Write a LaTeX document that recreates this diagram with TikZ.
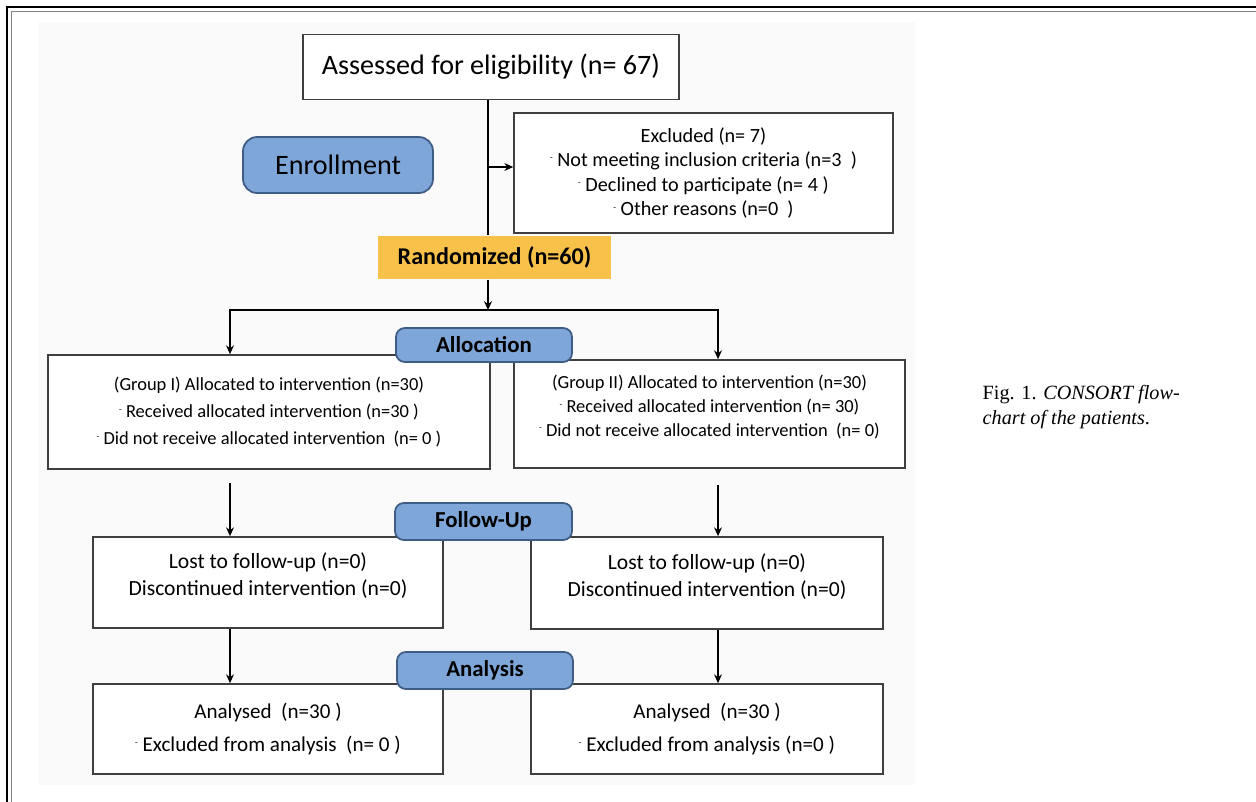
\documentclass[tikz,border=0pt]{standalone}
\usepackage{fontspec}
\setmainfont{Carlito}
\newfontfamily\legende{Liberation Serif}
\usetikzlibrary{positioning, arrows.meta}
\definecolor{phaseblue}{HTML}{7FA6D8}
\definecolor{phaseedge}{HTML}{3E5C84}
\definecolor{randgold}{HTML}{F8C24A}
\definecolor{boxedge}{HTML}{3F3F3F}
\definecolor{panel}{HTML}{FAFAFA}
\newcommand{\bmark}{\raisebox{0.6ex}{\tiny -}\ }

\begin{document}
\begin{tikzpicture}[x=0.02cm, y=-0.02cm, ->, >={Stealth[length=5pt, width=4.5pt]}, line width=0.8pt,
    box/.style={draw=boxedge, line width=1pt, fill=white, align=center, inner sep=2pt},
    phase/.style={draw=phaseedge, line width=1pt, fill=phaseblue, rounded corners=5pt, align=center, font=\bfseries\fontsize{13}{15}\selectfont}]
        \useasboundingbox (0,0) rectangle (1256,801);

        % Cadre et fond
        \fill[panel] (38,22) rectangle (915,785);
        \draw[-, line width=1.3pt] (7,805) -- (7,7) -- (1260,7);
        \draw[-, gray, line width=0.8pt] (11.5,805) -- (11.5,11.5) -- (1260,11.5);

        % Nœuds
        \node[box, minimum width=7.52cm, minimum height=1.30cm, font=\fontsize{16}{18}\selectfont] (assess) at (491,67) {Assessed for eligibility (n= 67)};
        \node[box, minimum width=7.58cm, minimum height=2.40cm, font=\fontsize{11.5}{14}\selectfont] (excl) at (703.5,173) {Excluded (n= 7)\\ \bmark Not meeting inclusion criteria (n=3\ \ )\\ \bmark Declined to participate (n= 4 )\\ \bmark Other reasons (n=0\ \ )};
        \node[phase, rounded corners=8pt, minimum width=3.80cm, minimum height=1.12cm, font=\fontsize{16}{18}\selectfont] (enrol) at (338,165) {Enrollment};
        \node[fill=randgold, minimum width=4.66cm, minimum height=0.86cm, font=\bfseries\fontsize{13.7}{15}\selectfont] (rand) at (494.5,257.5) {Randomized (n=60)};

        \node[box, minimum width=8.84cm, minimum height=2.28cm, font=\fontsize{10.5}{15.4}\selectfont] (grp1) at (269,412) {(Group I) Allocated to intervention (n=30)\\ \bmark Received allocated intervention (n=30\ )\\ \bmark Did not receive allocated intervention\ \ (n= 0 )};
        \node[box, minimum width=7.82cm, minimum height=2.16cm, font=\fontsize{10.5}{13.4}\selectfont] (grp2) at (709.5,414) {(Group II) Allocated to intervention (n=30)\\ \bmark Received allocated intervention (n= 30)\\ \bmark Did not receive allocated intervention\ \ (n= 0)\\[-4pt]\mbox{}};

        \node[box, minimum width=7.00cm, minimum height=1.82cm, font=\fontsize{12.3}{15.4}\selectfont] (fu1) at (268,582.5) {Lost to follow-up (n=0)\\ Discontinued intervention (n=0)\\[-6pt]\mbox{}};
        \node[box, minimum width=7.04cm, minimum height=1.84cm, font=\fontsize{12.3}{15.4}\selectfont] (fu2) at (707,583) {Lost to follow-up (n=0)\\ Discontinued intervention (n=0)\\[-6pt]\mbox{}};

        \node[box, minimum width=7.00cm, minimum height=1.80cm, font=\fontsize{12}{18.8}\selectfont] (an1) at (268,729) {Analysed\ \ (n=30 )\\ \bmark Excluded from analysis\ \ (n= 0 )};
        \node[box, minimum width=7.04cm, minimum height=1.80cm, font=\fontsize{12}{18.8}\selectfont] (an2) at (707,729) {Analysed\ \ (n=30 )\\ \bmark Excluded from analysis (n=0 )};

        \node[phase, minimum width=3.52cm, minimum height=0.68cm] (alloc) at (484,345) {Allocation};
        \node[phase, minimum width=3.54cm, minimum height=0.74cm] (follow) at (483.5,521.5) {Follow-Up};
        \node[phase, minimum width=3.52cm, minimum height=0.74cm] (analy) at (485,670.5) {Analysis};

        \node[anchor=north west, align=left, inner sep=0pt, font=\legende\fontsize{11.5}{14}\selectfont] (legende) at (982,385) {Fig. 1. \textit{CONSORT flow-}\\\textit{chart of the patients}.};

        % Points de passage
        \coordinate (split) at (488,310);
        \coordinate (lcol) at (230,310);
        \coordinate (rcol) at (718,310);
        \coordinate (lgap) at (230,483);
        \coordinate (rgap) at (718,485);
        \coordinate (exarm) at (488,167);

        % Flèches
        \draw[-] (assess.south -| split) -- (rand.north -| split);
        \draw (exarm) -- (exarm -| excl.west);
        \draw (rand.south -| split) -- (split);
        \draw (split) -| (grp1.north -| lcol);
        \draw (split) -| (grp2.north -| rcol);
        \draw (lgap) -- (fu1.north -| lgap);
        \draw (rgap) -- (fu2.north -| rgap);
        \draw (fu1.south -| lcol) -- (an1.north -| lcol);
        \draw (fu2.south -| rcol) -- (an2.north -| rcol);
    \end{tikzpicture}
\end{document}
